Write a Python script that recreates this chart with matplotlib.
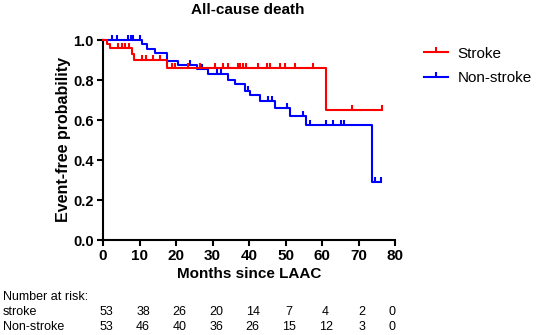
import matplotlib
matplotlib.use("Agg")
import matplotlib.pyplot as plt
import matplotlib.transforms as mtrans
import numpy as np
from matplotlib.lines import Line2D

plt.rcParams['font.family'] = ['Liberation Sans', 'DejaVu Sans']

# Kaplan-Meier step data
stroke_times = [0, 1.2, 1.9, 8.0, 8.5, 17.5, 61.0]
stroke_surv = [1.0, 0.982, 0.962, 0.93, 0.899, 0.862, 0.652]
stroke_end = 76.5
stroke_censor = [4.2, 5.1, 6.0, 7.0, 10.8, 11.7, 13.6, 15.6, 18.8, 19.7, 23.4, 26.6,
                 30.7, 33.0, 34.3, 37.0, 37.5, 38.4, 39.3, 42.6, 44.8, 45.7, 48.5,
                 49.9, 52.6, 57.5, 68.1, 76.5]

non_times = [0, 10.8, 12.0, 14.2, 17.4, 20.6, 25.7, 28.9, 34.3, 36.2, 38.9, 40.3,
             43.0, 47.1, 51.2, 55.5, 73.6]
non_surv = [1.0, 0.982, 0.957, 0.937, 0.893, 0.873, 0.856, 0.831, 0.801, 0.780,
            0.747, 0.727, 0.693, 0.660, 0.621, 0.577, 0.290]
non_end = 76.2
non_censor = [2.4, 3.7, 6.9, 7.8, 8.3, 10.1, 23.8, 27.0, 31.3, 32.2, 39.6, 45.3, 46.2,
              50.5, 54.9, 56.7, 61.1, 63.1, 65.1, 66.1, 74.5, 76.2]

risk_times = [0, 10, 20, 30, 40, 50, 60, 70, 80]
risk_stroke = [53, 38, 26, 20, 14, 7, 4, 2, 0]
risk_non = [53, 46, 40, 36, 26, 15, 12, 3, 0]

x_ticks = [0, 10, 20, 30, 40, 50, 60, 70, 80]
y_ticks = [0.0, 0.2, 0.4, 0.6, 0.8, 1.0]

RED = '#FF0000'
BLUE = '#0000FF'

fig = plt.figure(figsize=(5.36, 3.35), dpi=100)
W, H = 536, 335
ax = fig.add_axes([103 / W, 1 - 240 / H, 292 / W, 200 / H])

up_tick = [(0, 0), (0, 1)]


def level(times, surv, t):
    idx = np.searchsorted(times, t, side='right') - 1
    return surv[idx]


def draw(times, surv, end, censor, color):
    xs = list(times) + [end]
    ys = list(surv) + [surv[-1]]
    ax.step(xs, ys, where='post', color=color, lw=1.5, clip_on=False, zorder=3)
    cy = [level(times, surv, c) for c in censor]
    ax.plot(censor, cy, linestyle='none', marker=up_tick, markersize=6.5,
            markeredgewidth=1.5, color=color, clip_on=False, zorder=3)


draw(non_times, non_surv, non_end, non_censor, BLUE)
draw(stroke_times, stroke_surv, stroke_end, stroke_censor, RED)

ax.set_xlim(0, 80)
ax.set_ylim(0, 1.0)
ax.set_xticks(x_ticks)
ax.set_yticks(y_ticks)
ax.set_xticklabels([str(v) for v in x_ticks], fontsize=11, fontweight='bold')
ax.set_yticklabels([f"{v:.1f}" for v in y_ticks], fontsize=10.5, fontweight='bold')
for s in ['top', 'right']:
    ax.spines[s].set_visible(False)
for s in ['left', 'bottom']:
    ax.spines[s].set_linewidth(1.5)
ax.tick_params(direction='out', length=4.5, width=1.5, pad=2)

ax.set_xlabel('Months since LAAC', fontsize=11, fontweight='bold', labelpad=3)
ax.set_ylabel('Event-free probability', fontsize=11.5, fontweight='bold', labelpad=2)
fig.text(248 / W, 1 - 10 / H, 'All-cause death', fontsize=11, fontweight='bold',
         ha='center', va='center')

handles = [Line2D([], [], color=RED, lw=1.5, marker=up_tick, markersize=6.5, markeredgewidth=1.5),
           Line2D([], [], color=BLUE, lw=1.5, marker=up_tick, markersize=6.5, markeredgewidth=1.5)]
fig.legend(handles, ['Stroke', 'Non-stroke'], loc='upper left',
           bbox_to_anchor=(410 / W, 1 - 33 / H), frameon=False, fontsize=11,
           handlelength=1.6, handletextpad=0.6, labelspacing=0.7, numpoints=1)

# Number at risk table
fig.text(3 / W, 1 - 297 / H, 'Number at risk:', fontsize=9, ha='left', va='center')
fig.text(3 / W, 1 - 312 / H, 'stroke', fontsize=9, ha='left', va='center')
fig.text(3 / W, 1 - 327 / H, 'Non-stroke', fontsize=9, ha='left', va='center')
trans = mtrans.blended_transform_factory(ax.transData, fig.transFigure)
for t, a, b in zip(risk_times, risk_stroke, risk_non):
    xo = t + 1.0 if t < 80 else t - 0.8
    fig.text(xo, 1 - 312 / H, str(a), fontsize=9, ha='center', va='center', transform=trans)
    fig.text(xo, 1 - 327 / H, str(b), fontsize=9, ha='center', va='center', transform=trans)

fig.savefig('out.png', dpi=100)
